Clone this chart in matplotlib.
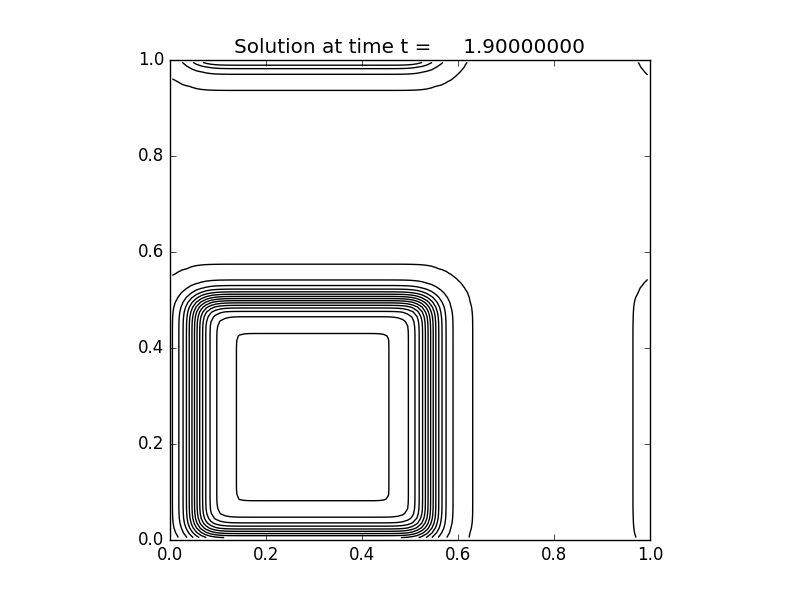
import math
import numpy as np
import matplotlib
matplotlib.use("Agg")
import matplotlib.pyplot as plt

# --- data ---
time_value = 1.9
x_edges = [0.051, 0.543]     # centres of left / right fronts of the pulse
y_edges = [0.009, 0.503]     # centres of bottom / top fronts of the pulse
x_width = 0.0395             # smearing width of the fronts in x
y_width = 0.0326             # smearing width of the fronts in y
n_cells = 100
contour_levels = [0.001] + list(np.linspace(0.05, 0.95, 13)) + [0.999]

plt.style.use('classic')
plt.rcParams['figure.facecolor'] = 'white'
plt.rcParams['savefig.facecolor'] = 'white'

erf = np.frompyfunc(math.erf, 1, 1)


def profile(s, lo, hi, w):
    total = np.zeros_like(s)
    for shift in (-1.0, 0.0, 1.0):
        t = s + shift
        total += 0.5 * (erf((t - lo) / w).astype(float) - erf((t - hi) / w).astype(float))
    return total


xc = (np.arange(n_cells) + 0.5) / n_cells
yc = (np.arange(n_cells) + 0.5) / n_cells
X, Y = np.meshgrid(xc, yc)
U = profile(X, x_edges[0], x_edges[1], x_width) * profile(Y, y_edges[0], y_edges[1], y_width)

fig = plt.figure(figsize=(8, 6), dpi=100)
ax = fig.add_subplot(111)
ax.contour(X, Y, U, levels=contour_levels, colors='k', linewidths=1.0)
ax.set_xlim(0, 1)
ax.set_ylim(0, 1)
ax.set_aspect('equal')
ax.set_xticks([0.0, 0.2, 0.4, 0.6, 0.8, 1.0])
ax.set_yticks([0.0, 0.2, 0.4, 0.6, 0.8, 1.0])
ax.set_title('Solution at time t = %14.8f' % time_value)
fig.savefig('out.png', dpi=100)
